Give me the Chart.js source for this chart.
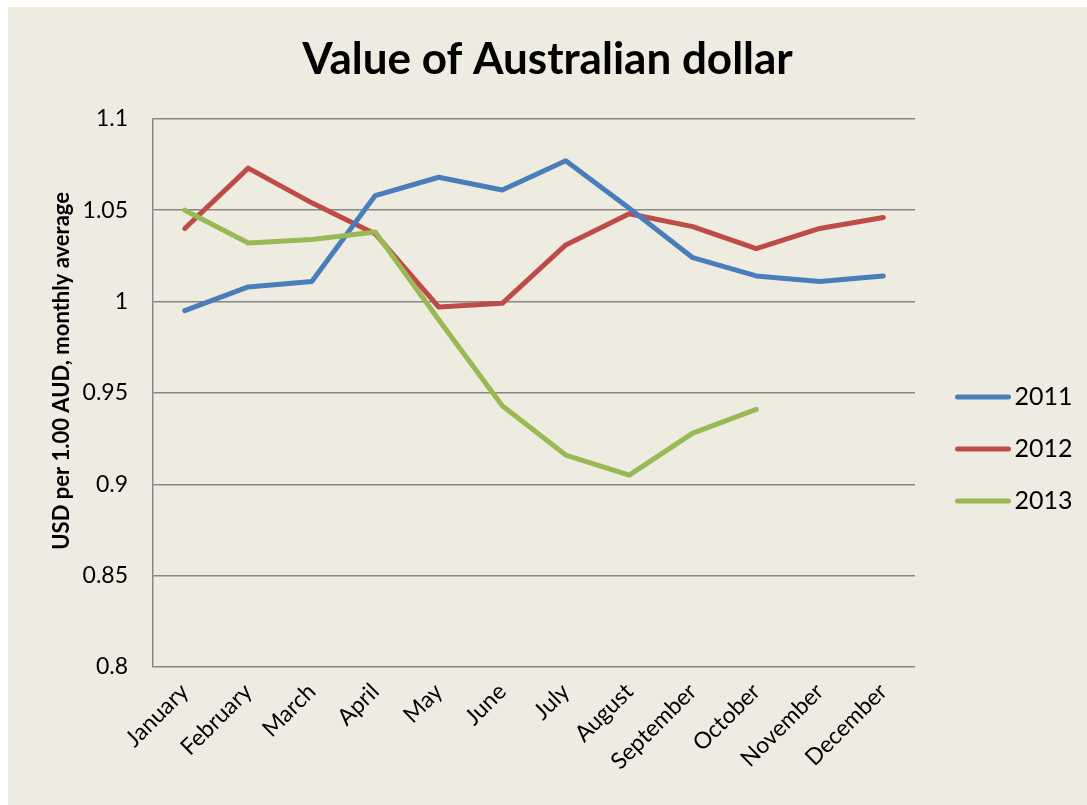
<!DOCTYPE html>
<html>
<head>
<meta charset="utf-8">
<script src="https://cdn.jsdelivr.net/npm/chart.js@4/dist/chart.umd.min.js"></script>
<style>
  html, body { margin: 0; padding: 0; background: #ffffff; }
  #wrap { position: absolute; left: 8px; top: 7px; width: 1079px; height: 798px; background: #EEECE1; }
</style>
</head>
<body>
<div id="wrap"><canvas id="myChart"></canvas></div>
<script>
// Data
const months = ['January', 'February', 'March', 'April', 'May', 'June', 'July',
    'August', 'September', 'October', 'November', 'December'];
const aud2011 = [0.995, 1.008, 1.011, 1.058, 1.068, 1.061, 1.077, 1.051, 1.024, 1.014, 1.011, 1.014];
const aud2012 = [1.040, 1.073, 1.054, 1.037, 0.997, 0.999, 1.031, 1.048, 1.041, 1.029, 1.040, 1.046];
const aud2013 = [1.050, 1.032, 1.034, 1.038, 0.990, 0.943, 0.916, 0.905, 0.928, 0.941];
const yTickLabels = ['0.8', '0.85', '0.9', '0.95', '1', '1.05', '1.1'];

const FONT = 'Lato, "Noto Sans", sans-serif';
const gridColor = '#868686';

// legend swatch: a short thick line, shifted right inside a transparent canvas
function legendLine(color) {
    const c = document.createElement('canvas');
    c.width = 78;
    c.height = 8;
    const g = c.getContext('2d');
    g.strokeStyle = color;
    g.lineWidth = 5;
    g.lineCap = 'round';
    g.beginPath();
    g.moveTo(24.5, 4);
    g.lineTo(75.5, 4);
    g.stroke();
    return c;
}

function series(label, values, color, order) {
    return {
        label: label,
        data: values,
        borderColor: color,
        backgroundColor: color,
        borderWidth: 5,
        borderCapStyle: 'round',
        borderJoinStyle: 'round',
        pointRadius: 0,
        tension: 0,
        fill: false,
        order: order
    };
}

const data = {
    labels: months,
    datasets: [
        series('2011', aud2011, '#4A7EBB', 1),
        series('2012', aud2012, '#BE4B48', 2),
        series('2013', aud2013, '#98B954', 0)
    ]
};

const ctx = document.getElementById('myChart').getContext('2d');
const myChart = new Chart(ctx, {
    type: 'line',
    data: data,
    options: {
        responsive: true,
        maintainAspectRatio: false,
        animation: false,
        layout: { padding: 0 },
        plugins: {
            title: {
                display: true,
                text: 'Value of Australian dollar',
                color: '#000',
                font: { family: FONT, size: 44, weight: 'bold' },
                padding: { top: 26, bottom: 33 }
            },
            legend: {
                position: 'right',
                align: 'center',
                title: {
                    display: true,
                    text: ' ',
                    font: { size: 10 },
                    padding: { top: 74, bottom: 0 }
                },
                labels: {
                    color: '#000',
                    font: { family: FONT, size: 25 },
                    usePointStyle: true,
                    pointStyleWidth: 60,
                    padding: 27,
                    generateLabels(chart) {
                        const items = Chart.defaults.plugins.legend.labels.generateLabels(chart);
                        items.forEach(it => {
                            it.pointStyle = legendLine(chart.data.datasets[it.datasetIndex].borderColor);
                        });
                        return items.sort((a, b) => a.datasetIndex - b.datasetIndex);
                    }
                }
            },
            tooltip: { enabled: false }
        },
        scales: {
            x: {
                offset: true,
                grid: { display: false },
                border: { display: false },
                ticks: {
                    color: '#000',
                    font: { family: FONT, size: 23 },
                    maxRotation: 45,
                    minRotation: 45,
                    autoSkip: false,
                    padding: 3
                },
                afterFit(scale) {
                    scale.height = 138;
                    scale.paddingRight = 172;
                }
            },
            y: {
                min: 0.8,
                max: 1.1,
                grid: { color: gridColor, lineWidth: 1.5, drawTicks: false },
                border: { display: true, color: gridColor, width: 1.5 },
                ticks: {
                    stepSize: 0.05,
                    color: '#000',
                    font: { family: FONT, size: 23 },
                    padding: 25,
                    callback: (value, index) => yTickLabels[index]
                },
                title: {
                    display: true,
                    text: '\u2002\u2002\u2002\u2002USD per 1.00 AUD, monthly average',
                    color: '#000',
                    font: { family: FONT, size: 22, weight: 'bold' },
                    padding: { top: 41, bottom: 0 }
                },
                afterFit(scale) {
                    scale.width = 145;
                }
            }
        }
    }
});
</script>
</body>
</html>
